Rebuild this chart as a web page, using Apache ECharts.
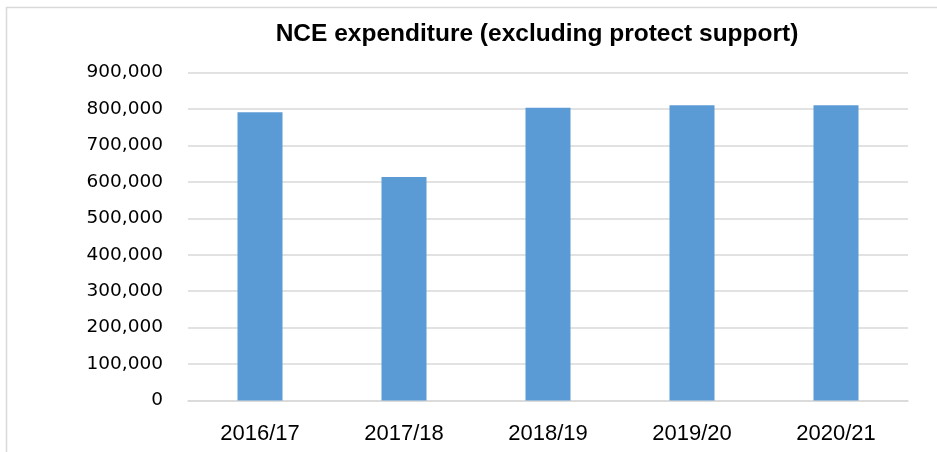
<!DOCTYPE html>
<html>
<head>
<meta charset="utf-8">
<script src="https://cdn.jsdelivr.net/npm/echarts@6/dist/echarts.min.js"></script>
<style>
  html, body { margin: 0; padding: 0; background: #fff; }
  #chart { width: 937px; height: 452px; }
</style>
</head>
<body>
<div id="chart"></div>
<script>
// data
const years = ['2016/17', '2017/18', '2018/19', '2019/20', '2020/21']
const spend = [791000, 613000, 803000, 810000, 810000]
const yTicks = [0, 100000, 200000, 300000, 400000, 500000, 600000, 700000, 800000, 900000]

const chart = echarts.init(document.getElementById('chart'))

const option = {
  animation: false,
  backgroundColor: '#fff',
  title: {
    text: 'NCE expenditure (excluding protect support)',
    left: 532,
    top: 17,
    textAlign: 'center',
    textStyle: {
      fontFamily: 'Liberation Sans',
      fontWeight: 'bold',
      fontSize: 24.5,
      color: '#000'
    }
  },
  // outer frame of the chart box
  graphic: [{
    type: 'rect',
    shape: { x: 6.5, y: 7.5, width: 940, height: 460 },
    style: { fill: 'none', stroke: '#d9d9d9', lineWidth: 1.5 },
    silent: true
  }],
  grid: { left: 188, right: 29, top: 72.5, bottom: 51.5 },
  xAxis: {
    type: 'category',
    data: years,
    axisTick: { show: false },
    axisLine: { lineStyle: { color: '#d9d9d9', width: 1.5 } },
    axisLabel: {
      margin: 22,
      fontFamily: 'Liberation Sans',
      fontSize: 22,
      color: '#000'
    }
  },
  yAxis: {
    type: 'value',
    min: yTicks[0],
    max: yTicks[yTicks.length - 1],
    interval: 100000,
    axisLine: { show: false },
    axisTick: { show: false },
    splitLine: { lineStyle: { color: '#d9d9d9', width: 1.5 } },
    axisLabel: {
      margin: 25,
      fontFamily: 'DejaVu Sans',
      fontSize: 18.5,
      color: '#000',
      formatter: v => v.toLocaleString('en-US')
    }
  },
  series: [{
    type: 'bar',
    data: spend,
    barWidth: 45,
    itemStyle: { color: '#5b9bd5' }
  }]
}

chart.setOption(option)
</script>
</body>
</html>
